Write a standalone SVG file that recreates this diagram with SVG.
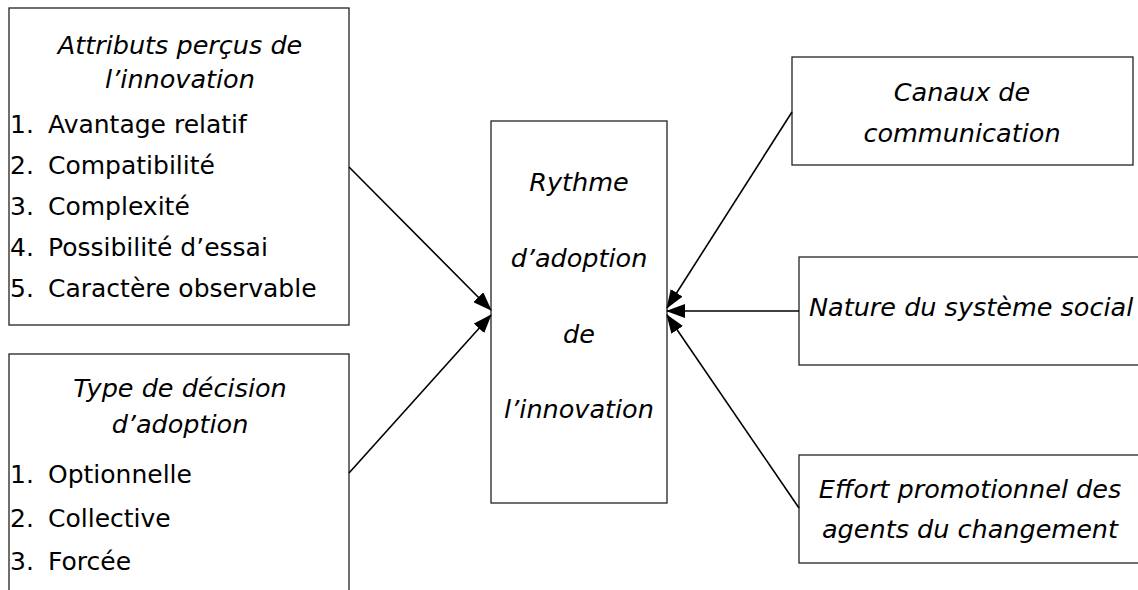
<svg xmlns="http://www.w3.org/2000/svg" width="1138" height="590" viewBox="0 0 1138 590">
<style>
.box{fill:#fff;stroke:#222;stroke-width:1.3}
text{font-family:"DejaVu Sans","Liberation Sans",sans-serif;font-size:25px;fill:#000}
.i{font-style:italic;font-size:25.5px}
.c{text-anchor:middle}
.conn line{stroke:#000;stroke-width:1.6;marker-end:url(#ah)}
</style>
<defs>
<marker id="ah" markerUnits="userSpaceOnUse" markerWidth="19" markerHeight="14" viewBox="0 0 19 14" refX="18" refY="7" orient="auto">
<path d="M0,0 L19,7 L0,14 z" fill="#000"/>
</marker>
</defs>
<rect width="1138" height="590" fill="#fff"/>
<g id="attributs">
<rect class="box" x="9" y="8" width="340" height="317"/>
<text class="i c" x="180" y="54">Attributs perçus de</text>
<text class="i c" x="180" y="88">l’innovation</text>
<text x="10" y="133">1.</text><text x="48" y="133">Avantage relatif</text>
<text x="10" y="174">2.</text><text x="48" y="174">Compatibilité</text>
<text x="10" y="215">3.</text><text x="48" y="215">Complexité</text>
<text x="10" y="256">4.</text><text x="48" y="256">Possibilité d’essai</text>
<text x="10" y="297">5.</text><text x="48" y="297">Caractère observable</text>
</g>
<g id="type-decision">
<rect class="box" x="9" y="354" width="340" height="260"/>
<text class="i c" x="180" y="397">Type de décision</text>
<text class="i c" x="180" y="433">d’adoption</text>
<text x="10" y="483">1.</text><text x="48" y="483">Optionnelle</text>
<text x="10" y="527">2.</text><text x="48" y="527">Collective</text>
<text x="10" y="570">3.</text><text x="48" y="570">Forcée</text>
</g>
<g id="rythme">
<rect class="box" x="491" y="121" width="176" height="382"/>
<text class="i c" x="579" y="191">Rythme</text>
<text class="i c" x="579" y="267">d’adoption</text>
<text class="i c" x="579" y="343">de</text>
<text class="i c" x="579" y="418">l’innovation</text>
</g>
<g id="canaux">
<rect class="box" x="792" y="57" width="341" height="108"/>
<text class="i c" x="962" y="101">Canaux de</text>
<text class="i c" x="962" y="142">communication</text>
</g>
<g id="nature">
<rect class="box" x="799" y="257" width="360" height="108"/>
<text class="i" x="809" y="316">Nature du système social</text>
</g>
<g id="effort">
<rect class="box" x="799" y="455" width="342" height="108"/>
<text class="i c" x="970" y="498">Effort promotionnel des</text>
<text class="i c" x="970" y="538">agents du changement</text>
</g>
<g id="connectors" class="conn">
<line x1="349" y1="167" x2="491" y2="310"/>
<line x1="349" y1="473" x2="491" y2="315"/>
<line x1="792" y1="112" x2="667" y2="308"/>
<line x1="799" y1="311" x2="667" y2="311"/>
<line x1="799" y1="508" x2="667" y2="315"/>
</g>
</svg>
